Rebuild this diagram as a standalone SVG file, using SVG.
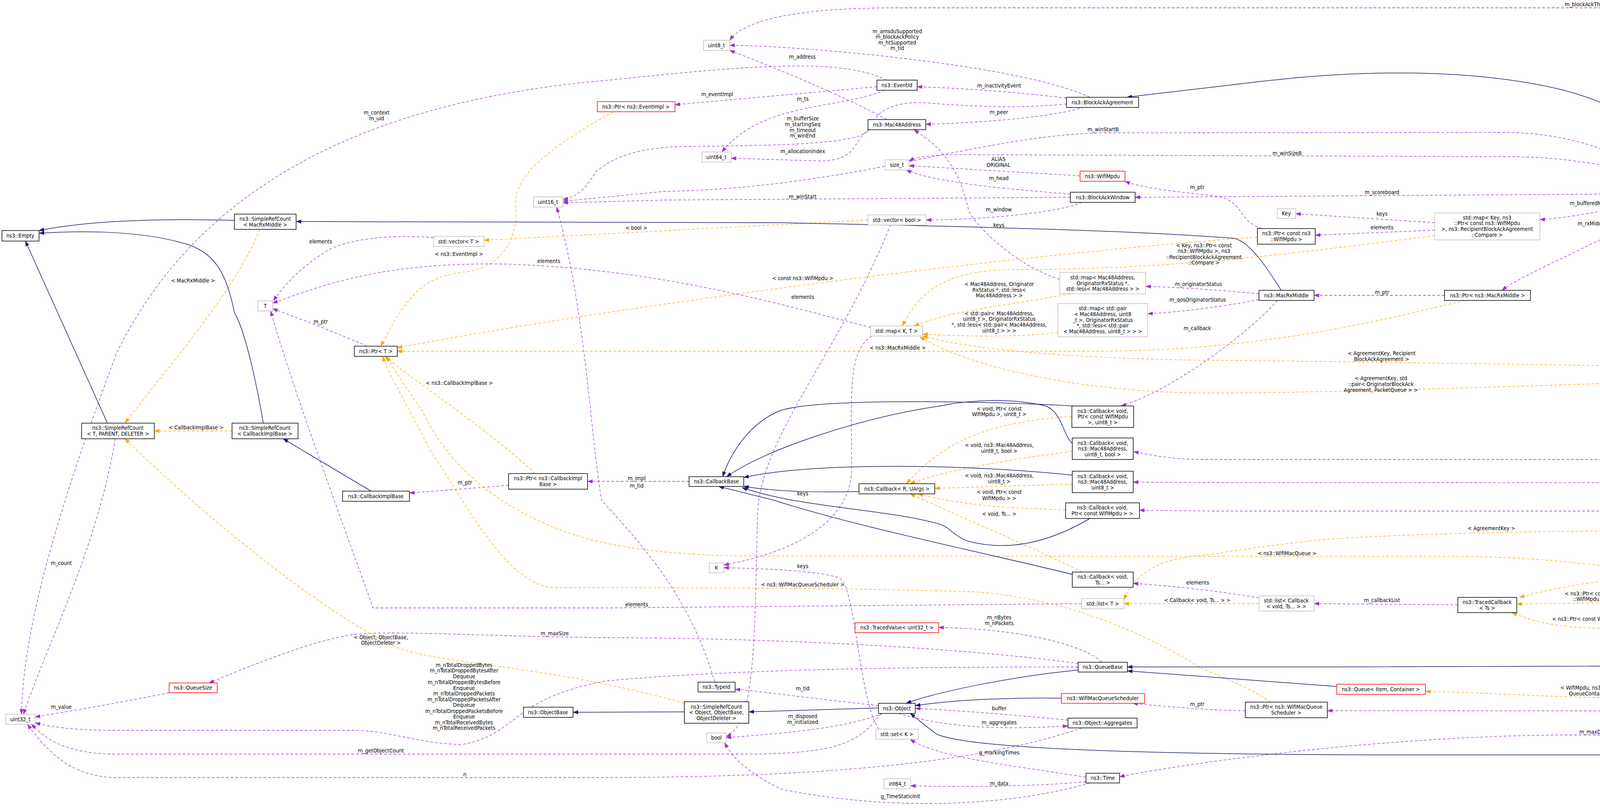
<svg xmlns="http://www.w3.org/2000/svg" width="6168" height="2068" viewBox="0 0 6168 2068">
<style>
text{font-family:"DejaVu Sans Condensed","DejaVu Sans",sans-serif;font-stretch:condensed;font-size:14px;fill:#000;text-anchor:middle}
.n{fill:#fff;stroke:#000;stroke-width:1.5}
.u{fill:#fff;stroke:#bfbfbf;stroke-width:1.5}
.r{fill:#fff;stroke:#ff0000;stroke-width:1.5}
.g{fill:#bfbfbf;stroke:#000;stroke-width:1.5}
.p{fill:none;stroke:#9a32cd;stroke-width:1.3;stroke-dasharray:7,5;marker-end:url(#ap)}
.o{fill:none;stroke:orange;stroke-width:1.3;stroke-dasharray:7,5;marker-end:url(#ao)}
.b{fill:none;stroke:midnightblue;stroke-width:1.5;marker-end:url(#ab)}
</style>
<defs>
<marker id="ap" markerWidth="14" markerHeight="10" refX="13" refY="5" orient="auto" markerUnits="userSpaceOnUse"><path d="M0,0 L14,5 L0,10 z" fill="#9a32cd"/></marker>
<marker id="ao" markerWidth="14" markerHeight="10" refX="13" refY="5" orient="auto" markerUnits="userSpaceOnUse"><path d="M0,0 L14,5 L0,10 z" fill="orange"/></marker>
<marker id="ab" markerWidth="14" markerHeight="10" refX="13" refY="5" orient="auto" markerUnits="userSpaceOnUse"><path d="M0,0 L14,5 L0,10 z" fill="midnightblue"/></marker>
</defs>
<rect width="6168" height="2068" fill="#fff"/>
<g id="connectors">
<path class="p" d="M6067,1257 C6000,600 5950,20 5777,20 L2300,20 C2000,20 1900,60 1868,103"/>
<path class="p" d="M2790,249 C2600,160 2000,115 1868,116"/>
<path class="p" d="M2270,306 C2150,240 1950,160 1868,129"/>
<path class="p" d="M2270,205 C2150,145 1900,170 1560,205 C900,260 500,500 300,900 C150,1300 60,1600 55,1828"/>
<path class="p" d="M2245,222 L1728,268"/>
<path class="p" d="M2730,251 C2600,235 2450,225 2348,222"/>
<path class="p" d="M2265,231 C2150,280 1950,260 1848,389"/>
<path class="p" d="M2775,274 C2700,300 2500,315 2370,318"/>
<path class="p" d="M2730,266 C2600,280 2450,270 2370,263 C2280,258 2240,290 2225,330 C2210,370 2000,372 1750,375 C1600,378 1550,420 1525,440 C1500,480 1480,505 1441,510"/>
<path class="p" d="M2225,332 C2180,360 2200,410 2100,412 L1872,405"/>
<path class="p" d="M4290,483 C4150,380 4000,339 3850,339 L2830,340 C2500,345 2200,480 1700,490 L1441,515"/>
<path class="p" d="M4300,483 C4150,420 4000,401 3850,401 L2500,396 C2400,394 2350,400 2327,412"/>
<path class="p" d="M2765,450 L2327,424"/>
<path class="p" d="M2740,497 C2600,485 2400,470 2320,435"/>
<path class="p" d="M2740,505 L1700,512 L1441,519"/>
<path class="p" d="M4208,496 L2906,505"/>
<path class="p" d="M3230,585 C3160,560 3190,510 3100,500 C3000,490 2920,480 2880,464"/>
<path class="p" d="M2770,517 C2720,545 2500,563 2371,563"/>
<path class="p" d="M2713,715 C2600,680 2500,580 2480,540 C2450,400 2380,360 2340,332"/>
<path class="p" d="M4280,509 C4100,540 4000,560 3942,562"/>
<path class="p" d="M3673,570 L3317,547"/>
<path class="p" d="M3673,589 L3367,602"/>
<path class="p" d="M4300,509 C4100,620 3900,700 3845,743"/>
<path class="p" d="M3698,756 L3364,756"/>
<path class="p" d="M3223,752 C3100,740 3000,735 2933,733"/>
<path class="p" d="M3223,767 C3100,790 3000,800 2938,803"/>
<path class="p" d="M3270,769 C3200,850 3000,1000 2870,1039"/>
<path class="p" d="M4800,926 C4700,850 4500,700 4355,510"/>
<path class="p" d="M4705,960 C4600,980 4450,1010 4391,1020"/>
<path class="p" d="M4713,1040 C4600,1035 4450,1030 4391,1032"/>
<path class="p" d="M4713,1080 L4431,1088"/>
<path class="p" d="M4815,1346 C4780,1250 4720,1140 4680,1137 C4500,1135 4430,1090 4400,1042"/>
<path class="p" d="M6060,1257 C5950,1100 5500,1000 4940,953"/>
<path class="p" d="M6050,1257 C5900,1120 5500,1070 4932,1060"/>
<path class="p" d="M6040,1257 C5950,1190 5850,1176 5780,1176 L3080,1176 C3000,1176 2950,1165 2902,1156"/>
<path class="p" d="M6000,1260 C5900,1240 5800,1236 5700,1236 L3080,1235 L2901,1234"/>
<path class="p" d="M6000,1283 C5900,1300 5800,1308 5700,1308 L3100,1308 L2917,1306"/>
<path class="p" d="M6040,1283 C5950,1330 5700,1365 5400,1365 L4921,1362"/>
<path class="p" d="M6050,1283 C5900,1420 5700,1465 5400,1461 L5241,1446"/>
<path class="p" d="M6060,1283 C6040,1400 5950,1470 5879,1480"/>
<path class="p" d="M5740,1500 C5650,1600 5450,1700 5370,1723"/>
<path class="p" d="M5300,1723 C5200,1670 4900,1600 4663,1553"/>
<path class="p" d="M5264,1744 C5100,1750 4950,1758 4860,1758"/>
<path class="p" d="M4720,1680 C4600,1660 4500,1650 4416,1627"/>
<path class="p" d="M4708,1697 C4600,1690 4500,1685 4437,1679"/>
<path class="p" d="M5290,1749 C5150,1810 4950,1820 4700,1820 L3398,1819"/>
<path class="p" d="M3188,1819 C3100,1818 3000,1810 2900,1800"/>
<path class="p" d="M5320,1749 C5250,1850 5100,1880 4900,1881 L4000,1881 C3500,1885 3000,1960 2866,1988"/>
<path class="p" d="M2780,2000 C2700,2010 2500,2016 2331,2011"/>
<path class="p" d="M2780,1989 C2600,1960 2400,1940 2330,1892"/>
<path class="p" d="M2790,2004 C2600,2060 2300,2080 2000,2020 C1900,1970 1870,1930 1855,1901"/>
<path class="p" d="M2249,1806 C2100,1790 1950,1770 1882,1764"/>
<path class="p" d="M2260,1826 C2150,1870 1950,1880 1859,1888"/>
<path class="p" d="M2734,1843 C2600,1830 2450,1818 2343,1813"/>
<path class="p" d="M2300,1826 C2450,1870 2600,1865 2734,1858"/>
<path class="p" d="M2820,1695 C2780,1650 2600,1608 2403,1606"/>
<path class="p" d="M2760,1707 C2400,1707 1900,1710 1550,1743 C1300,1790 1330,1880 1180,1906 C1050,1900 1000,1869 900,1869 L280,1869 C180,1869 120,1858 90,1850"/>
<path class="p" d="M2760,1698 C2400,1650 1900,1633 1550,1632 C1200,1628 1000,1612 900,1625 C800,1640 650,1700 535,1748"/>
<path class="p" d="M433,1773 C300,1800 150,1825 90,1835"/>
<path class="p" d="M295,1123 C250,1400 120,1650 60,1828"/>
<path class="p" d="M2255,1826 C2200,1900 2150,1930 1900,1930 L300,1930 C150,1930 110,1880 80,1854"/>
<path class="p" d="M2770,1863 C2600,1920 2300,1990 1540,1990 L300,1990 C180,1990 120,1920 70,1854"/>
<path class="p" d="M940,886 C880,860 780,820 698,790"/>
<path class="p" d="M1110,608 C1000,600 900,610 840,640 C760,690 720,740 700,770"/>
<path class="p" d="M2229,838 C2000,780 1700,690 1300,676 C1000,670 850,720 698,776"/>
<path class="p" d="M2769,1545 L1540,1556 L955,1556 C900,1400 750,1000 693,796"/>
<path class="p" d="M1764,1232 L1504,1232"/>
<path class="p" d="M1302,1242 L1048,1262"/>
<path class="p" d="M1830,1746 C1760,1500 1600,1350 1540,1280 C1510,1100 1500,800 1425,530"/>
<path class="p" d="M2250,1866 C2200,1800 2190,1500 2150,1480 C2100,1460 1950,1455 1853,1453"/>
<path class="p" d="M2232,860 C2170,900 2180,1000 2180,1200 C2180,1350 2000,1420 1853,1446"/>
<path class="p" d="M2280,575 C2150,900 1960,1100 1940,1300 C1930,1600 1940,1850 1859,1885"/>
<path class="p" d="M3732,1548 L3364,1545"/>
<path class="p" d="M3223,1530 C3100,1510 3000,1500 2901,1493"/>
<path class="o" d="M665,587 C600,750 420,950 320,1083"/>
<path class="o" d="M594,1103 L395,1103"/>
<path class="o" d="M1752,1800 C1400,1700 1100,1700 1000,1650 C800,1550 500,1300 320,1123"/>
<path class="o" d="M1570,286 C1400,380 1320,450 1320,520 C1330,600 1290,680 1200,695 C1080,705 1040,760 975,886"/>
<path class="o" d="M2222,563 L1239,615"/>
<path class="o" d="M3219,607 C2600,650 1600,780 1017,890"/>
<path class="o" d="M3750,769 C3500,830 3200,899 2800,899 L1017,899"/>
<path class="o" d="M1370,1212 C1250,1100 1080,990 985,912"/>
<path class="o" d="M3253,1797 C3200,1760 3100,1720 3080,1713 C2900,1600 2700,1530 2500,1515 C2200,1505 1900,1505 1540,1504 L1420,1504 C1300,1500 1200,1300 1100,1150 C1050,1050 990,950 980,912"/>
<path class="o" d="M5653,1490 C5000,1500 4500,1490 4200,1460 C3900,1420 3800,1424 3500,1424 L1900,1423 C1700,1420 1600,1400 1540,1388 C1300,1330 1150,1200 1080,1050 C1030,980 1000,930 990,912"/>
<path class="o" d="M3673,603 C3300,650 3000,690 2600,690 C2400,690 2350,760 2310,834"/>
<path class="o" d="M2740,752 C2600,780 2450,790 2340,834"/>
<path class="o" d="M2708,851 C2600,865 2450,860 2362,855"/>
<path class="o" d="M4705,944 C4300,940 3500,925 3080,922 C2800,918 2500,900 2362,860"/>
<path class="o" d="M4783,1034 C4740,990 4700,970 4620,968 C4200,975 3500,1006 3080,1006 C2800,1004 2500,950 2355,862"/>
<path class="o" d="M2744,1066 C2500,1080 2400,1150 2320,1238"/>
<path class="o" d="M2745,1155 C2550,1180 2400,1210 2330,1238"/>
<path class="o" d="M2745,1239 L2393,1250"/>
<path class="o" d="M2728,1305 C2550,1300 2450,1290 2350,1264"/>
<path class="o" d="M2770,1464 C2600,1380 2450,1320 2330,1264"/>
<path class="o" d="M3223,1545 L2877,1545"/>
<path class="o" d="M4725,1358 C4200,1355 3700,1360 3400,1380 C3200,1400 3100,1420 3080,1421 C2950,1430 2900,1480 2877,1535"/>
<path class="o" d="M4500,1537 L3883,1546"/>
<path class="o" d="M4216,1609 C4000,1610 3950,1600 3870,1568"/>
<path class="o" d="M4964,1425 C4500,1440 4100,1470 3890,1529"/>
<path class="o" d="M4735,1720 C4680,1760 4500,1785 4300,1787 C4000,1790 3800,1770 3649,1770"/>
<path class="b" d="M600,564 C450,560 250,560 100,590"/>
<path class="b" d="M674,1083 C660,1000 630,850 600,800 C580,700 550,640 460,620 C350,590 200,590 100,597"/>
<path class="b" d="M275,1083 L65,617"/>
<path class="b" d="M950,1257 L725,1123"/>
<path class="b" d="M3280,743 C3240,680 3200,620 3160,610 C2900,590 2500,580 2000,570 L758,567"/>
<path class="b" d="M4320,483 C4250,330 4150,270 4000,230 C3750,170 3450,180 3180,214 C3050,230 2950,240 2885,249"/>
<path class="b" d="M2765,1040 C2500,1025 2100,1020 2000,1050 C1920,1080 1870,1160 1850,1220"/>
<path class="b" d="M2745,1135 C2720,1110 2720,1060 2680,1040 C2600,1020 2500,1020 2400,1040 C2200,1070 1960,1150 1860,1220"/>
<path class="b" d="M2745,1216 C2500,1190 2100,1180 1904,1222"/>
<path class="b" d="M2199,1258 C2100,1260 2000,1260 1904,1245"/>
<path class="b" d="M2790,1327 C2700,1380 2600,1410 2500,1390 C2440,1380 2440,1350 2400,1340 C2250,1300 2050,1300 1900,1248"/>
<path class="b" d="M2745,1470 C2500,1410 2200,1350 1980,1280 C1900,1260 1860,1250 1840,1245"/>
<path class="b" d="M2760,1715 C2600,1730 2400,1770 2320,1800"/>
<path class="b" d="M2717,1787 C2600,1785 2450,1790 2343,1806"/>
<path class="b" d="M2249,1812 L1917,1822"/>
<path class="b" d="M1752,1822 L1467,1823"/>
<path class="b" d="M3422,1757 C3200,1740 3000,1725 2886,1717"/>
<path class="b" d="M4708,1703 L3400,1707 L2886,1707"/>
<path class="b" d="M5264,1730 L4937,1708"/>
<path class="b" d="M6070,1283 C6050,1700 5950,1932 5770,1932 L3500,1932 C3000,1930 2500,1920 2400,1880 C2370,1860 2350,1840 2330,1826"/>
</g>
<g id="labels">
<text x="4074" y="16">m_blockAckThreshold</text>
<text x="2297" y="85">m_amsduSupported</text><text x="2297" y="99">m_blockAckPolicy</text><text x="2297" y="114">m_htSupported</text><text x="2297" y="128">m_tid</text>
<text x="2054" y="150">m_address</text>
<text x="964" y="293">m_context</text><text x="964" y="308">m_uid</text>
<text x="1836" y="246">m_eventImpl</text>
<text x="2558" y="224">m_inactivityEvent</text>
<text x="2055" y="258">m_ts</text>
<text x="2557" y="292">m_peer</text>
<text x="2055" y="308">m_bufferSize</text><text x="2055" y="323">m_startingSeq</text><text x="2055" y="338">m_timeout</text><text x="2055" y="352">m_winEnd</text>
<text x="2824" y="336">m_winStartB</text>
<text x="2055" y="392">m_allocationIndex</text>
<text x="3295" y="397">m_winSizeB</text>
<text x="2556" y="412">ALIAS</text><text x="2556" y="427">ORIGINAL</text>
<text x="2557" y="461">m_head</text>
<text x="3065" y="484">m_ptr</text>
<text x="3538" y="497">m_scoreboard</text>
<text x="2055" y="508">m_winStart</text>
<text x="4075" y="525">m_bufferedMpdus</text>
<text x="2557" y="541">m_window</text>
<text x="3538" y="552">keys</text>
<text x="4075" y="577">m_rxMiddle</text>
<text x="2557" y="581">keys</text>
<text x="3538" y="587">elements</text>
<text x="1629" y="588">&lt; bool &gt;</text>
<text x="821" y="623">elements</text>
<text x="3082" y="633">&lt; Key, ns3::Ptr&lt; const</text><text x="3082" y="647">ns3::WifiMpdu &gt;, ns3</text><text x="3082" y="663">::RecipientBlockAckAgreement</text><text x="3082" y="677">::Compare &gt;</text>
<text x="4583" y="639">elements</text>
<text x="1175" y="655">&lt; ns3::EventImpl &gt;</text>
<text x="1405" y="673">elements</text>
<text x="2055" y="717">&lt; const ns3::WifiMpdu &gt;</text>
<text x="494" y="723">&lt; MacRxMiddle &gt;</text>
<text x="2558" y="732">&lt; Mac48Address, Originator</text><text x="2558" y="747">RxStatus *, std::less&lt;</text><text x="2558" y="761">Mac48Address &gt; &gt;</text>
<text x="3068" y="732">m_originatorStatus</text>
<text x="3538" y="753">m_ptr</text>
<text x="2055" y="765">elements</text>
<text x="3066" y="772">m_qosOriginatorStatus</text>
<text x="2558" y="807">&lt; std::pair&lt; Mac48Address,</text><text x="2558" y="821">uint8_t &gt;, OriginatorRxStatus</text><text x="2558" y="836">*, std::less&lt; std::pair&lt; Mac48Address,</text><text x="2558" y="851">uint8_t &gt; &gt; &gt;</text>
<text x="821" y="828">m_ptr</text>
<text x="3065" y="845">m_callback</text>
<text x="2298" y="895">&lt; ns3::MacRxMiddle &gt;</text>
<text x="3537" y="909">&lt; AgreementKey, Recipient</text><text x="3537" y="924">BlockAckAgreement &gt;</text>
<text x="4583" y="968">keys</text>
<text x="3535" y="973">&lt; AgreementKey, std</text><text x="3535" y="988">::pair&lt; OriginatorBlockAck</text><text x="3535" y="1003">Agreement, PacketQueue &gt; &gt;</text>
<text x="1176" y="985">&lt; ns3::CallbackImplBase &gt;</text>
<text x="5534" y="1000">m_recipientAgreements</text>
<text x="4583" y="1035">keys</text>
<text x="2558" y="1051">&lt; void, Ptr&lt; const</text><text x="2558" y="1065">WifiMpdu &gt;, uint8_t &gt;</text>
<text x="5534" y="1071">m_originatorAgreements</text>
<text x="4583" y="1080">elements</text>
<text x="502" y="1099">&lt; CallbackImplBase &gt;</text>
<text x="4583" y="1107">elements</text>
<text x="2558" y="1144">&lt; void, ns3::Mac48Address,</text><text x="2558" y="1159">uint8_t, bool &gt;</text>
<text x="4584" y="1173">m_blockAckInactivityTimeout</text>
<text x="4584" y="1217">m_blockPackets</text><text x="4584" y="1233">m_unblockPackets</text>
<text x="2558" y="1222">&lt; void, ns3::Mac48Address,</text><text x="2558" y="1237">uint8_t &gt;</text>
<text x="1630" y="1229">m_impl</text><text x="1630" y="1248">m_tid</text>
<text x="1190" y="1240">m_ptr</text>
<text x="2558" y="1264">&lt; void, Ptr&lt; const</text><text x="2558" y="1280">WifiMpdu &gt; &gt;</text>
<text x="2055" y="1268">keys</text>
<text x="4584" y="1277">m_droppedOldMpduCallback</text><text x="4584" y="1292">m_txFailedCallback</text><text x="4584" y="1306">m_txOkCallback</text>
<text x="2558" y="1320">&lt; void, Ts... &gt;</text>
<text x="3818" y="1357">&lt; AgreementKey &gt;</text>
<text x="5544" y="1358">m_sendBarIfDataQueued</text>
<text x="4331" y="1417">&lt; ns3::Time, ns3::Mac48Address,</text><text x="4331" y="1432">uint8_t, OriginatorBlockAckAgreement</text><text x="4331" y="1446">::State &gt;</text>
<text x="3295" y="1421">&lt; ns3::WifiMacQueue &gt;</text>
<text x="157" y="1446">m_count</text>
<text x="5938" y="1446">m_queue</text>
<text x="5535" y="1453">m_originatorAgreementState</text>
<text x="2055" y="1454">keys</text>
<text x="3066" y="1496">elements</text>
<text x="2055" y="1501">&lt; ns3::WifiMacQueueScheduler &gt;</text>
<text x="4075" y="1524">&lt; ns3::Ptr&lt; const ns3</text><text x="4075" y="1538">::WifiMpdu &gt; &gt;</text>
<text x="3538" y="1541">m_callbackList</text>
<text x="3065" y="1541">&lt; Callback&lt; void, Ts... &gt; &gt;</text>
<text x="1630" y="1552">elements</text>
<text x="4823" y="1558">m_traceExpired</text>
<text x="5535" y="1565">m_ptr</text>
<text x="2558" y="1585">m_nBytes</text><text x="2558" y="1600">m_nPackets</text>
<text x="4075" y="1589">&lt; ns3::Ptr&lt; const WifiMpdu &gt; &gt;</text>
<text x="4584" y="1587">m_traceDequeue</text><text x="4584" y="1602">m_traceDrop</text><text x="4584" y="1616">m_traceDropAfterDequeue</text><text x="4584" y="1630">m_traceDropBeforeEnqueue</text><text x="4584" y="1646">m_traceEnqueue</text>
<text x="1420" y="1626">m_maxSize</text>
<text x="975" y="1636">&lt; Object, ObjectBase,</text><text x="975" y="1650">ObjectDeleter &gt;</text>
<text x="4581" y="1684">m_packets</text>
<text x="1188" y="1707">m_nTotalDroppedBytes</text><text x="1188" y="1721">m_nTotalDroppedBytesAfter</text><text x="1188" y="1736">Dequeue</text><text x="1188" y="1751">m_nTotalDroppedBytesBefore</text><text x="1188" y="1766">Enqueue</text><text x="1188" y="1780">m_nTotalDroppedPackets</text><text x="1188" y="1795">m_nTotalDroppedPacketsAfter</text><text x="1188" y="1809">Dequeue</text><text x="1188" y="1825">m_nTotalDroppedPacketsBefore</text><text x="1188" y="1839">Enqueue</text><text x="1188" y="1854">m_nTotalReceivedBytes</text><text x="1188" y="1868">m_nTotalReceivedPackets</text>
<text x="5104" y="1742">m_ac</text>
<text x="4075" y="1765">&lt; WifiMpdu, ns3::WifiMac</text><text x="4075" y="1780">QueueContainer &gt;</text>
<text x="2055" y="1767">m_tid</text>
<text x="3065" y="1807">m_ptr</text>
<text x="157" y="1814">m_value</text>
<text x="4335" y="1817">m_scheduler</text>
<text x="2558" y="1818">buffer</text>
<text x="2055" y="1838">m_disposed</text><text x="2055" y="1853">m_initialized</text>
<text x="2558" y="1854">m_aggregates</text>
<text x="4084" y="1878">m_maxDelay</text>
<text x="975" y="1926">m_getObjectCount</text>
<text x="2558" y="1931">g_markingTimes</text>
<text x="1190" y="1987">n</text>
<text x="2558" y="2010">m_data</text>
<text x="2305" y="2043">g_TimeStaticInit</text>
</g>
<g id="n_empty"><rect class="n" x="5" y="590" width="95" height="27"/><text x="52" y="608">ns3::Empty</text></g>
<g id="n_src_mrm"><rect class="n" x="600" y="548" width="158" height="39"/><text x="679" y="565">ns3::SimpleRefCount</text><text x="679" y="580">&lt; MacRxMiddle &gt;</text></g>
<g id="n_uint16"><rect class="u" x="1366" y="504" width="75" height="26"/><text x="1403" y="522">uint16_t</text></g>
<g id="n_vecT"><rect class="u" x="1110" y="605" width="129" height="26"/><text x="1174" y="623">std::vector&lt; T &gt;</text></g>
<g id="n_T"><rect class="u" x="660" y="770" width="38" height="26"/><text x="679" y="788">T</text></g>
<g id="n_ptrT"><rect class="n" x="907" y="886" width="110" height="26"/><text x="962" y="904">ns3::Ptr&lt; T &gt;</text></g>
<g id="n_ptrEvImpl"><rect class="r" x="1529" y="260" width="199" height="26"/><text x="1628" y="278">ns3::Ptr&lt; ns3::EventImpl &gt;</text></g>
<g id="n_uint8"><rect class="u" x="1801" y="103" width="67" height="26"/><text x="1834" y="121">uint8_t</text></g>
<g id="n_eventid"><rect class="n" x="2245" y="205" width="103" height="26"/><text x="2296" y="223">ns3::EventId</text></g>
<g id="n_baa"><rect class="n" x="2730" y="249" width="185" height="26"/><text x="2822" y="267">ns3::BlockAckAgreement</text></g>
<g id="n_mac48"><rect class="n" x="2222" y="306" width="148" height="26"/><text x="2296" y="324">ns3::Mac48Address</text></g>
<g id="n_uint64"><rect class="u" x="1797" y="389" width="75" height="26"/><text x="1834" y="407">uint64_t</text></g>
<g id="n_size"><rect class="u" x="2266" y="409" width="61" height="26"/><text x="2296" y="427">size_t</text></g>
<g id="n_wifimpdu"><rect class="r" x="2765" y="438" width="115" height="26"/><text x="2822" y="456">ns3::WifiMpdu</text></g>
<g id="n_baw"><rect class="n" x="2740" y="492" width="166" height="26"/><text x="2823" y="510">ns3::BlockAckWindow</text></g>
<g id="n_vecbool"><rect class="u" x="2222" y="550" width="149" height="26"/><text x="2296" y="568">std::vector&lt; bool &gt;</text></g>
<g id="n_mapMac"><rect class="u" x="2713" y="697" width="220" height="55"/><text x="2823" y="715">std::map&lt; Mac48Address,</text><text x="2823" y="730">OriginatorRxStatus *,</text><text x="2823" y="744">std::less&lt; Mac48Address &gt; &gt;</text></g>
<g id="n_mapKT"><rect class="u" x="2229" y="834" width="133" height="26"/><text x="2295" y="852">std::map&lt; K, T &gt;</text></g>
<g id="n_mapPair"><rect class="u" x="2708" y="777" width="230" height="85"/><text x="2823" y="794">std::map&lt; std::pair</text><text x="2823" y="809">&lt; Mac48Address, uint8</text><text x="2823" y="824">_t &gt;, OriginatorRxStatus</text><text x="2823" y="838">*, std::less&lt; std::pair</text><text x="2823" y="853">&lt; Mac48Address, uint8_t &gt; &gt; &gt;</text></g>
<g id="n_rba"><rect class="n" x="4208" y="483" width="246" height="26"/><text x="4331" y="501">ns3::RecipientBlockAckAgreement</text></g>
<g id="n_key"><rect class="u" x="3270" y="534" width="47" height="25"/><text x="3293" y="551">Key</text></g>
<g id="n_mapKey"><rect class="u" x="3673" y="545" width="269" height="69"/><text x="3807" y="562">std::map&lt; Key, ns3</text><text x="3807" y="576">::Ptr&lt; const ns3::WifiMpdu</text><text x="3807" y="591">&gt;, ns3::RecipientBlockAckAgreement</text><text x="3807" y="606">::Compare &gt;</text></g>
<g id="n_ptrCWM"><rect class="n" x="3219" y="585" width="148" height="40"/><text x="3293" y="602">ns3::Ptr&lt; const ns3</text><text x="3293" y="617">::WifiMpdu &gt;</text></g>
<g id="n_macrx"><rect class="n" x="3223" y="743" width="141" height="26"/><text x="3293" y="761">ns3::MacRxMiddle</text></g>
<g id="n_ptrMacrx"><rect class="n" x="3698" y="743" width="220" height="26"/><text x="3808" y="761">ns3::Ptr&lt; ns3::MacRxMiddle &gt;</text></g>
<g id="n_agkey"><rect class="u" x="4272" y="1014" width="119" height="26"/><text x="4331" y="1032">AgreementKey</text></g>
<g id="n_mapAgRba"><rect class="u" x="4705" y="926" width="235" height="40"/><text x="4822" y="943">std::map&lt; AgreementKey,</text><text x="4822" y="958">RecipientBlockAckAgreement &gt;</text></g>
<g id="n_mapAgPair"><rect class="u" x="4713" y="1034" width="219" height="54"/><text x="4822" y="1051">std::map&lt; AgreementKey,</text><text x="4822" y="1066">std::pair&lt; OriginatorBlockAck</text><text x="4822" y="1080">Agreement, PacketQueue &gt; &gt;</text></g>
<g id="n_pair"><rect class="u" x="4231" y="1066" width="200" height="40"/><text x="4331" y="1083">pair&lt; OriginatorBlockAck</text><text x="4331" y="1098">Agreement, PacketQueue &gt;</text></g>
<g id="n_bam"><rect class="g" x="5994" y="1257" width="170" height="26"/><text x="6079" y="1275">ns3::BlockAckManager</text></g>
<g id="n_listAg"><rect class="u" x="4725" y="1346" width="196" height="26"/><text x="4823" y="1364">std::list&lt; AgreementKey &gt;</text></g>
<g id="n_tcTime"><rect class="n" x="4964" y="1387" width="277" height="69"/><text x="5102" y="1404">ns3::TracedCallback</text><text x="5102" y="1418">&lt; ns3::Time, ns3::Mac48Address,</text><text x="5102" y="1433">uint8_t, OriginatorBlockAckAgreement</text><text x="5102" y="1448">::State &gt;</text></g>
<g id="n_ptrWmq"><rect class="n" x="5653" y="1474" width="226" height="26"/><text x="5766" y="1492">ns3::Ptr&lt; ns3::WifiMacQueue &gt;</text></g>
<g id="n_queueW"><rect class="n" x="4708" y="1680" width="229" height="40"/><text x="4822" y="1697">ns3::Queue&lt; WifiMpdu,</text><text x="4822" y="1712">ns3::WifiMacQueueContainer &gt;</text></g>
<g id="n_acindex"><rect class="u" x="4785" y="1745" width="75" height="26"/><text x="4822" y="1763">AcIndex</text></g>
<g id="n_wmq"><rect class="n" x="5264" y="1723" width="148" height="26"/><text x="5338" y="1741">ns3::WifiMacQueue</text></g>
<g id="n_tcPtrNs3"><rect class="n" x="4500" y="1507" width="163" height="55"/><text x="4581" y="1525">ns3::TracedCallback</text><text x="4581" y="1540">&lt; ns3::Ptr&lt; const ns3</text><text x="4581" y="1554">::WifiMpdu &gt; &gt;</text></g>
<g id="n_listCb"><rect class="u" x="3223" y="1525" width="141" height="39"/><text x="3293" y="1542">std::list&lt; Callback</text><text x="3293" y="1557">&lt; void, Ts... &gt; &gt;</text></g>
<g id="n_tcTs"><rect class="n" x="3732" y="1529" width="151" height="39"/><text x="3807" y="1546">ns3::TracedCallback</text><text x="3807" y="1561">&lt; Ts &gt;</text></g>
<g id="n_tcPtr"><rect class="n" x="4216" y="1588" width="230" height="39"/><text x="4331" y="1605">ns3::TracedCallback</text><text x="4331" y="1620">&lt; ns3::Ptr&lt; const WifiMpdu &gt; &gt;</text></g>
<g id="n_wmqc"><rect class="r" x="4226" y="1654" width="211" height="25"/><text x="4331" y="1671">ns3::WifiMacQueueContainer</text></g>
<g id="n_queueIC"><rect class="r" x="3422" y="1751" width="227" height="26"/><text x="3535" y="1769">ns3::Queue&lt; Item, Container &gt;</text></g>
<g id="n_ptrSched"><rect class="n" x="3188" y="1797" width="210" height="40"/><text x="3293" y="1814">ns3::Ptr&lt; ns3::WifiMacQueue</text><text x="3293" y="1829">Scheduler &gt;</text></g>
<g id="n_srcT"><rect class="n" x="209" y="1083" width="186" height="40"/><text x="302" y="1100">ns3::SimpleRefCount</text><text x="302" y="1115">&lt; T, PARENT, DELETER &gt;</text></g>
<g id="n_srcCIB"><rect class="n" x="594" y="1083" width="169" height="40"/><text x="678" y="1100">ns3::SimpleRefCount</text><text x="678" y="1115">&lt; CallbackImplBase &gt;</text></g>
<g id="n_cib"><rect class="n" x="877" y="1257" width="171" height="26"/><text x="962" y="1275">ns3::CallbackImplBase</text></g>
<g id="n_ptrCIB"><rect class="n" x="1302" y="1212" width="202" height="40"/><text x="1403" y="1229">ns3::Ptr&lt; ns3::CallbackImpl</text><text x="1403" y="1244">Base &gt;</text></g>
<g id="n_qsize"><rect class="r" x="433" y="1748" width="123" height="25"/><text x="494" y="1765">ns3::QueueSize</text></g>
<g id="n_uint32"><rect class="u" x="15" y="1828" width="75" height="26"/><text x="52" y="1846">uint32_t</text></g>
<g id="n_objbase"><rect class="n" x="1340" y="1810" width="127" height="26"/><text x="1403" y="1828">ns3::ObjectBase</text></g>
<g id="n_cbbase"><rect class="n" x="1764" y="1220" width="140" height="25"/><text x="1834" y="1237">ns3::CallbackBase</text></g>
<g id="n_cbRU"><rect class="n" x="2199" y="1238" width="194" height="26"/><text x="2296" y="1256">ns3::Callback&lt; R, UArgs &gt;</text></g>
<g id="n_cb1"><rect class="n" x="2744" y="1039" width="158" height="55"/><text x="2823" y="1057">ns3::Callback&lt; void,</text><text x="2823" y="1071">Ptr&lt; const WifiMpdu</text><text x="2823" y="1086">&gt;, uint8_t &gt;</text></g>
<g id="n_cb2"><rect class="n" x="2745" y="1121" width="156" height="55"/><text x="2823" y="1139">ns3::Callback&lt; void,</text><text x="2823" y="1153">ns3::Mac48Address,</text><text x="2823" y="1168">uint8_t, bool &gt;</text></g>
<g id="n_cb3"><rect class="n" x="2745" y="1206" width="156" height="55"/><text x="2823" y="1224">ns3::Callback&lt; void,</text><text x="2823" y="1238">ns3::Mac48Address,</text><text x="2823" y="1253">uint8_t &gt;</text></g>
<g id="n_cb4"><rect class="n" x="2728" y="1287" width="189" height="40"/><text x="2822" y="1304">ns3::Callback&lt; void,</text><text x="2822" y="1319">Ptr&lt; const WifiMpdu &gt; &gt;</text></g>
<g id="n_cb5"><rect class="n" x="2745" y="1464" width="156" height="39"/><text x="2823" y="1481">ns3::Callback&lt; void,</text><text x="2823" y="1496">Ts... &gt;</text></g>
<g id="n_K"><rect class="u" x="1816" y="1441" width="37" height="25"/><text x="1834" y="1458">K</text></g>
<g id="n_listT"><rect class="u" x="2769" y="1532" width="108" height="26"/><text x="2823" y="1550">std::list&lt; T &gt;</text></g>
<g id="n_tvU32"><rect class="r" x="2189" y="1594" width="214" height="25"/><text x="2296" y="1611">ns3::TracedValue&lt; uint32_t &gt;</text></g>
<g id="n_qbase"><rect class="n" x="2760" y="1695" width="126" height="25"/><text x="2823" y="1712">ns3::QueueBase</text></g>
<g id="n_typeid"><rect class="n" x="1787" y="1746" width="95" height="25"/><text x="1834" y="1763">ns3::TypeId</text></g>
<g id="n_srcObj"><rect class="n" x="1752" y="1796" width="165" height="55"/><text x="1834" y="1814">ns3::SimpleRefCount</text><text x="1834" y="1828">&lt; Object, ObjectBase,</text><text x="1834" y="1843">ObjectDeleter &gt;</text></g>
<g id="n_object"><rect class="n" x="2249" y="1800" width="94" height="26"/><text x="2296" y="1818">ns3::Object</text></g>
<g id="n_sched"><rect class="r" x="2717" y="1775" width="213" height="25"/><text x="2823" y="1792">ns3::WifiMacQueueScheduler</text></g>
<g id="n_aggr"><rect class="n" x="2734" y="1838" width="177" height="25"/><text x="2822" y="1855">ns3::Object::Aggregates</text></g>
<g id="n_bool"><rect class="u" x="1809" y="1876" width="50" height="25"/><text x="1834" y="1893">bool</text></g>
<g id="n_setK"><rect class="u" x="2242" y="1866" width="109" height="26"/><text x="2296" y="1884">std::set&lt; K &gt;</text></g>
<g id="n_time"><rect class="n" x="2780" y="1979" width="86" height="25"/><text x="2823" y="1996">ns3::Time</text></g>
<g id="n_int64"><rect class="u" x="2263" y="1993" width="68" height="26"/><text x="2297" y="2011">int64_t</text></g>
</svg>
